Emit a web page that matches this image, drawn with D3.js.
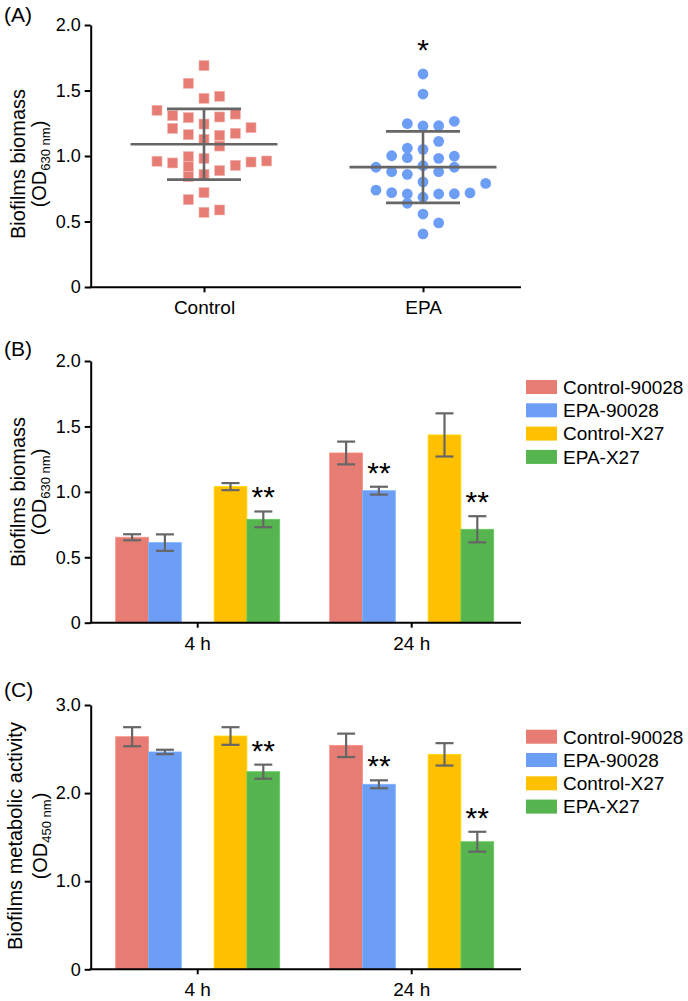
<!DOCTYPE html>
<html>
<head>
<meta charset="utf-8">
<script src="https://cdn.jsdelivr.net/npm/d3@7"></script>
<style>
  body { margin: 0; background: #fff; }
  text { font-family: "Liberation Sans", Arial, sans-serif; fill: #000; }
</style>
</head>
<body>
<svg id="fig"></svg>
<script>
// ---- Panel A: single-well biomass values, [OD630, swarm lane] ----
const scatterGroups = ["Control", "EPA"];
const controlPoints = [
  [1.69, 0], [1.555, -1], [1.44, 0], [1.456, 1], [1.349, -3], [1.308, -2], [1.293, -1], [1.298, 1],
  [1.32, 2], [1.211, -2], [1.244, 0], [1.163, -1], [1.158, 1], [1.173, 2], [1.216, 3], [1.127, 0],
  [1.076, 1], [0.96, -3], [0.947, -2], [0.995, -1], [0.918, -1], [0.842, -1], [0.982, 0], [0.86, 0],
  [0.888, 1], [0.929, 2], [0.954, 3], [0.962, 4], [0.72, 0], [0.667, -1], [0.57, 0], [0.588, 1]
];
const epaPoints = [
  [1.626, 0], [1.473, 0], [1.247, -1], [1.229, 0], [1.231, 1], [1.265, 2], [1.112, 1], [1.059, -1],
  [1.051, 0], [1.002, -2], [0.987, -1], [0.982, 1], [0.998, 2], [0.914, -3], [0.926, 0], [0.914, 2],
  [0.88, -2], [0.86, -1], [0.88, 1], [0.802, 0], [0.791, 4], [0.74, -3], [0.72, -2], [0.71, -1],
  [0.639, -1], [0.685, 0], [0.71, 1], [0.712, 2], [0.718, 3], [0.557, 0], [0.489, 1], [0.405, 0]
];
const scatterMean = [1.09, 0.915];
const scatterSD = [0.27, 0.273];
const scatterSig = ["", "*"];
const ticksAB = [0, 0.5, 1, 1.5, 2];

// ---- Panels B and C: grouped bars ----
const timepoints = ["4 h", "24 h"];
const strains = ["Control-90028", "EPA-90028", "Control-X27", "EPA-X27"];
const strainColors = ["#e67c73", "#6d9ef6", "#ffc000", "#56b54f"];

const biomassMean = [[0.653, 0.612, 1.04, 0.79], [1.297, 1.009, 1.435, 0.714]];
const biomassErr  = [[0.023, 0.063, 0.027, 0.06], [0.087, 0.03, 0.165, 0.10]];
const biomassSig  = [["", "", "", "**"], ["", "**", "", "**"]];

const activityMean = [[2.64, 2.467, 2.648, 2.243], [2.542, 2.1, 2.44, 1.448]];
const activityErr  = [[0.108, 0.025, 0.1, 0.08], [0.133, 0.045, 0.127, 0.113]];
const activitySig  = [["", "", "", "**"], ["", "**", "", "**"]];
const ticksC = [0, 1, 2, 3];

// ---- layout ----
const W = 688, H = 1001;
const axisLeftX = 90.7, axisRightX = 521;
const grey = "#666";

const svg = d3.select("#fig").attr("width", W).attr("height", H);

const fmt = d => d === 0 ? "0" : d.toFixed(1);

function yAxis(y, ticks) {
  const ax = svg.append("g")
    .attr("transform", `translate(${axisLeftX},0)`)
    .call(d3.axisLeft(y).tickValues(ticks).tickFormat(fmt).tickSize(6).tickPadding(4).tickSizeOuter(0));
  ax.select(".domain").attr("stroke", "#000").attr("stroke-width", 2);
  ax.selectAll(".tick line").attr("stroke", "#000").attr("stroke-width", 2);
  ax.selectAll(".tick text").style("font-size", "18px");
}

function xAxis(x, yPos) {
  const ax = svg.append("g")
    .attr("transform", `translate(0,${yPos})`)
    .call(d3.axisBottom(x).tickSize(5).tickSizeOuter(0));
  ax.select(".domain").remove();
  ax.selectAll(".tick line").attr("stroke", "#000").attr("stroke-width", 2);
  ax.selectAll(".tick text").attr("y", 27).attr("dy", 0).style("font-size", "19px");
  ax.append("line")
    .attr("x1", axisLeftX - 1).attr("x2", axisRightX)
    .attr("stroke", "#000").attr("stroke-width", 2);
}

function yTitle(line1, sub, cy, base1, base2) {
  svg.append("text")
    .attr("transform", `translate(${base1},${cy}) rotate(-90)`)
    .attr("text-anchor", "middle")
    .style("font-size", "20px")
    .text(line1);
  const t = svg.append("text")
    .attr("transform", `translate(${base2},${cy}) rotate(-90)`)
    .attr("text-anchor", "middle")
    .style("font-size", "20px");
  t.append("tspan").text("(OD");
  t.append("tspan").attr("dy", 4).style("font-size", "13px").text(sub);
  t.append("tspan").attr("dy", -4).text(")");
}

function panelLabel(txt, yBase) {
  svg.append("text").attr("x", 4).attr("y", yBase).style("font-size", "21px").text(txt);
}

// ===================== Panel A =====================
const yA = d3.scaleLinear().domain([0, 2]).range([287, 25]);
const xA = d3.scalePoint().domain(scatterGroups).range([204, 423]);
const laneStep = 15.67;

panelLabel("(A)", 22);
yTitle("Biofilms biomass", "630 nm", 164, 25, 46);

svg.append("g").selectAll("rect")
  .data(controlPoints)
  .join("rect")
  .attr("x", d => xA("Control") + d[1] * laneStep - 5)
  .attr("y", d => yA(d[0]) - 5)
  .attr("width", 10).attr("height", 10)
  .attr("fill", strainColors[0])
  .attr("stroke", "#f2b4ae").attr("stroke-width", 0.6);

svg.append("g").selectAll("circle")
  .data(epaPoints)
  .join("circle")
  .attr("cx", d => xA("EPA") + d[1] * laneStep)
  .attr("cy", d => yA(d[0]))
  .attr("r", 5.4)
  .attr("fill", strainColors[1]);

// mean +/- SD
scatterGroups.forEach((grp, i) => {
  const cx = xA(grp), m = scatterMean[i], s = scatterSD[i];
  const g = svg.append("g").attr("stroke", grey).attr("stroke-width", 2.6);
  g.append("line").attr("x1", cx - 73.5).attr("x2", cx + 73.5).attr("y1", yA(m)).attr("y2", yA(m));
  g.append("line").attr("x1", cx).attr("x2", cx).attr("y1", yA(m - s)).attr("y2", yA(m + s));
  [m - s, m + s].forEach(v => {
    g.append("line").attr("x1", cx - 37).attr("x2", cx + 37).attr("y1", yA(v)).attr("y2", yA(v));
  });
});

const epaMax = d3.max(epaPoints, d => d[0]);
scatterGroups.forEach((grp, i) => {
  if (!scatterSig[i]) return;
  svg.append("text")
    .attr("x", xA(grp)).attr("y", yA(epaMax) - 14)
    .attr("text-anchor", "middle")
    .style("font-size", "30px")
    .text(scatterSig[i]);
});

yAxis(yA, ticksAB);
xAxis(xA, 287.3);

// ===================== Bar panels =====================
function barPanel(opts) {
  const y = d3.scaleLinear().domain(opts.domain).range([opts.bottom, opts.top]);
  const x0 = d3.scaleBand().domain(timepoints).range([axisLeftX, 518.7]);
  const slots = d3.scaleBand().domain(d3.range(5)).range([0, 164]);
  const slotOf = [0, 1, 3, 4];
  const off = (x0.bandwidth() - 164) / 2;

  const rows = [];
  timepoints.forEach((t, ti) => {
    strains.forEach((s, si) => {
      rows.push({
        t, si,
        x: x0(t) + off + slots(slotOf[si]),
        mean: opts.mean[ti][si],
        err: opts.err[ti][si],
        sig: opts.sig[ti][si]
      });
    });
  });

  const bw = slots.bandwidth();

  svg.append("g").selectAll("rect")
    .data(rows)
    .join("rect")
    .attr("x", d => d.x)
    .attr("y", d => y(d.mean))
    .attr("width", bw)
    .attr("height", d => y(0) - y(d.mean))
    .attr("fill", d => strainColors[d.si])
    .attr("stroke", d => d3.color(strainColors[d.si]).brighter(0.35))
    .attr("stroke-width", 0.8);

  const eg = svg.append("g").attr("stroke", grey).attr("stroke-width", 2.2);
  rows.forEach(d => {
    const cx = d.x + bw / 2;
    eg.append("line").attr("x1", cx).attr("x2", cx)
      .attr("y1", y(d.mean - d.err)).attr("y2", y(d.mean + d.err));
    [d.mean - d.err, d.mean + d.err].forEach(v => {
      eg.append("line").attr("x1", cx - 9).attr("x2", cx + 9).attr("y1", y(v)).attr("y2", y(v));
    });
  });

  svg.append("g").selectAll("text")
    .data(rows.filter(d => d.sig))
    .join("text")
    .attr("x", d => d.x + bw / 2)
    .attr("y", d => y(d.mean + d.err) - 4)
    .attr("text-anchor", "middle")
    .style("font-size", "30px")
    .text(d => d.sig);

  yAxis(y, opts.ticks);
  xAxis(x0, opts.bottom);

  // legend
  const lg = svg.append("g");
  strains.forEach((s, i) => {
    const cy = opts.legendTop + i * 23.3;
    lg.append("rect").attr("x", 526).attr("y", cy - 7).attr("width", 31).attr("height", 14)
      .attr("fill", strainColors[i]);
    lg.append("text").attr("x", 563).attr("y", cy).attr("dy", "0.36em")
      .style("font-size", "19px").text(s);
  });
}

panelLabel("(B)", 356);
yTitle("Biofilms biomass", "630 nm", 492, 25, 46);
barPanel({
  domain: [0, 2], top: 361, bottom: 622.7, ticks: ticksAB,
  mean: biomassMean, err: biomassErr, sig: biomassSig, legendTop: 387
});

panelLabel("(C)", 697);
yTitle("Biofilms metabolic activity", "450 nm", 836, 22, 47);
barPanel({
  domain: [0, 3], top: 705, bottom: 969.3, ticks: ticksC,
  mean: activityMean, err: activityErr, sig: activitySig, legendTop: 736.7
});
</script>
</body>
</html>
